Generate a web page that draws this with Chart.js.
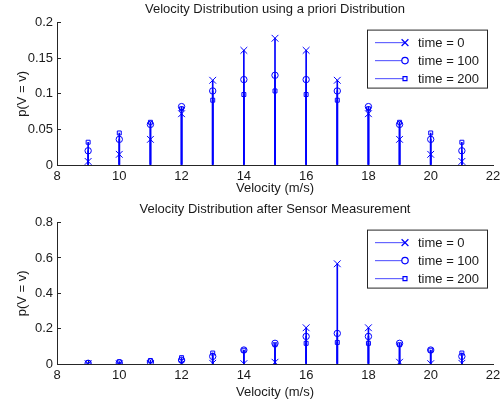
<!DOCTYPE html>
<html>
<head>
<meta charset="utf-8">
<script src="https://cdn.jsdelivr.net/npm/chart.js@4.4.0/dist/chart.umd.min.js"></script>
<style>
  body { margin: 0; background: #fff; }
  .plot { position: absolute; left: 0; width: 501px; }
  #top { top: 0; height: 200px; }
  #bottom { top: 200px; height: 205px; }
</style>
</head>
<body>
<div class="plot" id="top"><canvas id="prior"></canvas></div>
<div class="plot" id="bottom"><canvas id="posterior"></canvas></div>
<script>
// velocities (m/s)
var velocities = [9, 10, 11, 12, 13, 14, 15, 16, 17, 18, 19, 20, 21];
var seriesNames = ['time = 0', 'time = 100', 'time = 200'];

// a priori distribution
var priorT0   = [0.005, 0.015, 0.036, 0.072, 0.119, 0.161, 0.178, 0.161, 0.119, 0.072, 0.036, 0.015, 0.005];
var priorT100 = [0.020, 0.036, 0.057, 0.082, 0.104, 0.120, 0.126, 0.120, 0.104, 0.082, 0.057, 0.036, 0.020];
var priorT200 = [0.032, 0.045, 0.060, 0.079, 0.091, 0.099, 0.104, 0.099, 0.091, 0.079, 0.060, 0.045, 0.032];

// after sensor measurement
var postT0   = [0.001, 0.001, 0.002, 0.003, 0.004, 0.002, 0.010, 0.205, 0.567, 0.205, 0.010, 0.002, 0.004];
var postT100 = [0.004, 0.006, 0.011, 0.022, 0.043, 0.079, 0.117, 0.156, 0.173, 0.156, 0.117, 0.079, 0.043];
var postT200 = [0.008, 0.013, 0.020, 0.036, 0.062, 0.078, 0.109, 0.117, 0.122, 0.117, 0.109, 0.078, 0.062];

var xTicks = [8, 10, 12, 14, 16, 18, 20, 22];
var yTicksTop = [0, 0.05, 0.1, 0.15, 0.2];
var yTicksBottom = [0, 0.2, 0.4, 0.6, 0.8];

var blue = '#0000ff';
var axisColor = '#262626';
var markers = [
  { style: 'crossRot', radius: 4.8 },
  { style: 'circle', radius: 3.2 },
  { style: 'rect', radius: 2.8 }
];

Chart.defaults.font.family = '"Liberation Sans", Arial, Helvetica, sans-serif';
Chart.defaults.font.size = 13;
Chart.defaults.color = '#1a1a1a';

function points(vals) {
  return velocities.map(function (v, i) { return { x: v, y: vals[i] }; });
}

// matlab style legend box in the upper right corner
var stemLegend = {
  id: 'stemLegend',
  afterDraw: function (chart) {
    var ctx = chart.ctx, a = chart.chartArea;
    var x0 = a.right - 126, y0 = a.top + 7, w = 120, h = 58;
    ctx.save();
    ctx.fillStyle = '#fff';
    ctx.fillRect(x0, y0, w, h);
    ctx.strokeStyle = axisColor;
    ctx.lineWidth = 1;
    ctx.strokeRect(x0 + 0.5, y0 + 0.5, w, h);
    ctx.font = '13px "Liberation Sans", Arial, sans-serif';
    ctx.textBaseline = 'middle';
    seriesNames.forEach(function (name, i) {
      var y = y0 + 13 + i * 18;
      ctx.strokeStyle = 'rgba(0,0,255,0.6)';
      ctx.lineWidth = 1.2;
      ctx.beginPath();
      ctx.moveTo(x0 + 8, y);
      ctx.lineTo(x0 + 38, y);
      ctx.stroke();
      ctx.strokeStyle = blue;
      ctx.fillStyle = '#fff';
      Chart.helpers.drawPoint(ctx, { pointStyle: markers[i].style, radius: markers[i].radius, rotation: 0, borderWidth: 1 }, x0 + 38, y);
      ctx.fillStyle = '#1a1a1a';
      ctx.fillText(name, x0 + 51, y + 1);
    });
    ctx.restore();
  }
};

function makeChart(id, title, series, yMax, yTicks, xHeight, xTitlePad) {
  var datasets = [];
  series.forEach(function (vals, i) {
    datasets.push({
      type: 'bar',
      label: seriesNames[i] + ' stem',
      data: points(vals),
      backgroundColor: blue,
      barThickness: 1,
      grouped: false,
      order: 2
    });
  });
  series.forEach(function (vals, i) {
    datasets.push({
      type: 'scatter',
      label: seriesNames[i],
      data: points(vals),
      pointStyle: markers[i].style,
      pointRadius: markers[i].radius,
      pointBorderWidth: 1,
      borderColor: blue,
      backgroundColor: 'rgba(0,0,0,0)',
      order: 1
    });
  });

  return new Chart(document.getElementById(id), {
    type: 'bar',
    data: { datasets: datasets },
    options: {
      responsive: true,
      maintainAspectRatio: false,
      animation: false,
      layout: { padding: { left: 0, right: 8, top: 0, bottom: 0 } },
      plugins: {
        legend: { display: false },
        tooltip: { enabled: false },
        title: {
          display: true,
          text: title,
          fullSize: false,
          color: '#1a1a1a',
          font: { size: 13, weight: 'normal' },
          padding: { top: 2, bottom: 5 }
        }
      },
      scales: {
        x: {
          type: 'linear',
          min: 8,
          max: 22,
          offset: false,
          afterFit: function (s) {
            s.height = xHeight;
            s.paddingLeft = 0;
            s.paddingRight = 0;
          },
          afterBuildTicks: function (s) { s.ticks = xTicks.map(function (v) { return { value: v }; }); },
          grid: { drawOnChartArea: false, drawTicks: true, tickLength: -4, color: axisColor },
          border: { color: axisColor, width: 1 },
          ticks: { padding: 8, maxRotation: 0, color: '#1a1a1a' },
          title: { display: true, text: 'Velocity (m/s)', color: '#1a1a1a', padding: { top: 0, bottom: xTitlePad } }
        },
        y: {
          min: 0,
          max: yMax,
          afterFit: function (s) { s.width = 57; },
          afterBuildTicks: function (s) { s.ticks = yTicks.map(function (v) { return { value: v }; }); },
          grid: { drawOnChartArea: false, drawTicks: true, tickLength: -4, color: axisColor },
          border: { color: axisColor, width: 1 },
          ticks: {
            padding: 8,
            color: '#1a1a1a',
            callback: function (v) { return String(+v.toFixed(3)); }
          },
          title: { display: true, text: 'p(V = v)', color: '#1a1a1a', padding: { top: 15, bottom: 0 } }
        }
      }
    },
    plugins: [stemLegend]
  });
}

makeChart('prior', 'Velocity Distribution using a priori Distribution',
  [priorT0, priorT100, priorT200], 0.2, yTicksTop, 35, 4);
makeChart('posterior', 'Velocity Distribution after Sensor Measurement',
  [postT0, postT100, postT200], 0.8, yTicksBottom, 41, 5);
</script>
</body>
</html>
